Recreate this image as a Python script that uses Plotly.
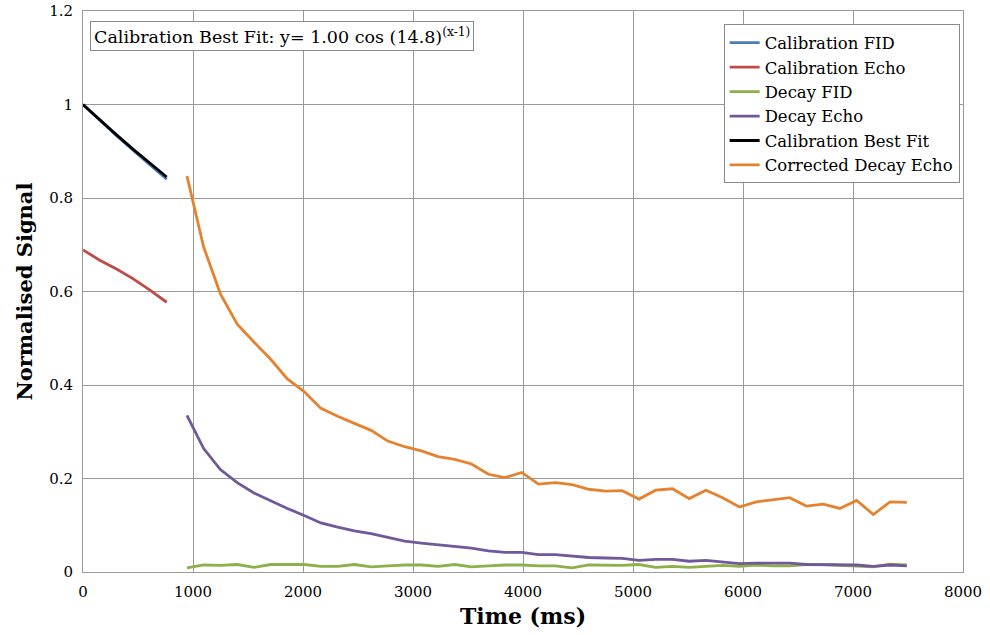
import plotly.graph_objects as go

# Calibration run (ms)
cal_time = [0, 152, 305, 457, 609, 761]
cal_fid = [1.000, 0.966, 0.933, 0.902, 0.870, 0.840]
cal_echo = [0.689, 0.667, 0.648, 0.627, 0.603, 0.577]
cal_fit = [1.000, 0.967, 0.935, 0.904, 0.874, 0.845]

# Decay run (ms)
decay_time = [945, 1097, 1249, 1402, 1554, 1706, 1858, 2010, 2163, 2315, 2467,
              2619, 2771, 2924, 3076, 3228, 3380, 3532, 3685, 3837, 3989, 4141,
              4293, 4446, 4598, 4750, 4902, 5054, 5207, 5359, 5511, 5663, 5815,
              5968, 6120, 6272, 6424, 6576, 6729, 6881, 7033, 7185, 7337, 7489]
decay_fid = [0.009, 0.015, 0.014, 0.016, 0.010, 0.016, 0.016, 0.016, 0.012, 0.012, 0.016,
             0.011, 0.013, 0.015, 0.015, 0.012, 0.016, 0.011, 0.013, 0.015, 0.015, 0.013,
             0.013, 0.009, 0.015, 0.014, 0.014, 0.016, 0.010, 0.012, 0.010, 0.012, 0.014,
             0.012, 0.015, 0.013, 0.013, 0.016, 0.016, 0.014, 0.013, 0.011, 0.017, 0.015]
decay_echo = [0.335, 0.264, 0.219, 0.191, 0.169, 0.152, 0.136, 0.121, 0.105, 0.096, 0.088,
              0.082, 0.074, 0.066, 0.062, 0.058, 0.055, 0.051, 0.045, 0.042, 0.042, 0.037,
              0.037, 0.034, 0.031, 0.030, 0.029, 0.025, 0.027, 0.027, 0.023, 0.025, 0.022,
              0.018, 0.019, 0.019, 0.019, 0.016, 0.016, 0.015, 0.015, 0.012, 0.015, 0.013]
corrected_echo = [0.847, 0.695, 0.595, 0.530, 0.492, 0.455, 0.413, 0.386, 0.350, 0.333, 0.318,
                  0.303, 0.280, 0.268, 0.259, 0.247, 0.241, 0.231, 0.209, 0.202, 0.213, 0.188,
                  0.191, 0.187, 0.177, 0.173, 0.174, 0.156, 0.175, 0.178, 0.157, 0.175, 0.159,
                  0.139, 0.150, 0.154, 0.159, 0.141, 0.145, 0.136, 0.153, 0.123, 0.150, 0.149]

x_ticks = [0, 1000, 2000, 3000, 4000, 5000, 6000, 7000, 8000]
y_ticks = [0, 0.2, 0.4, 0.6, 0.8, 1.0, 1.2]
y_labels = ["0", "0.2", "0.4", "0.6", "0.8", "1", "1.2"]

FONT = "DejaVu Serif"
GRID = "#9a9a9a"

fig = go.Figure()
series = [
    ("Calibration FID", cal_time, cal_fid, "#4a7ebb"),
    ("Calibration Echo", cal_time, cal_echo, "#be4b48"),
    ("Decay FID", decay_time, decay_fid, "#8cb04a"),
    ("Decay Echo", decay_time, decay_echo, "#71589a"),
    ("Calibration Best Fit", cal_time, cal_fit, "#000000"),
    ("Corrected Decay Echo", decay_time, corrected_echo, "#e5822f"),
]
for name, xs, ys, color in series:
    fig.add_trace(go.Scatter(x=xs, y=ys, mode="lines", name=name,
                             line=dict(color=color, width=2.8)))

fig.update_layout(
    width=990, height=635,
    margin=dict(l=83, r=27, t=11, b=63, autoexpand=False),
    paper_bgcolor="white", plot_bgcolor="white",
    font=dict(family=FONT, color="#000000", size=15),
    showlegend=True,
    legend=dict(x=0.728, y=0.976, xanchor="left", yanchor="top",
                bgcolor="white", bordercolor="#8a8a8a", borderwidth=1,
                font=dict(family=FONT, size=16.5, color="#000000"),
                itemwidth=30, tracegroupgap=0),
    annotations=[dict(
        text="Calibration Best Fit: y= 1.00 cos (14.8)<sup>(x-1)</sup>",
        xref="paper", yref="paper", x=0.008, y=0.983,
        xanchor="left", yanchor="top", showarrow=False,
        font=dict(family=FONT, size=17.5, color="#000000"),
        bgcolor="white", bordercolor="#8a8a8a", borderwidth=1, borderpad=3,
    )],
)

fig.update_xaxes(
    range=[0, 8000], tickvals=x_ticks, ticktext=[str(v) for v in x_ticks],
    showgrid=True, gridcolor=GRID, gridwidth=1,
    showline=True, linecolor=GRID, linewidth=1, mirror=True,
    zeroline=False, ticks="", ticklabelstandoff=6, automargin=False,
    tickfont=dict(family=FONT, size=15),
    title=dict(text="<b>Time (ms)</b>", font=dict(family=FONT, size=22), standoff=8),
)
fig.update_yaxes(
    range=[0, 1.2], tickvals=y_ticks, ticktext=y_labels,
    showgrid=True, gridcolor=GRID, gridwidth=1,
    showline=True, linecolor=GRID, linewidth=1, mirror=True,
    zeroline=False, ticks="", ticklabelstandoff=6, automargin=False,
    tickfont=dict(family=FONT, size=15),
    title=dict(text="<b>Normalised Signal</b>", font=dict(family=FONT, size=21), standoff=10),
)

fig.write_html("out.html")
